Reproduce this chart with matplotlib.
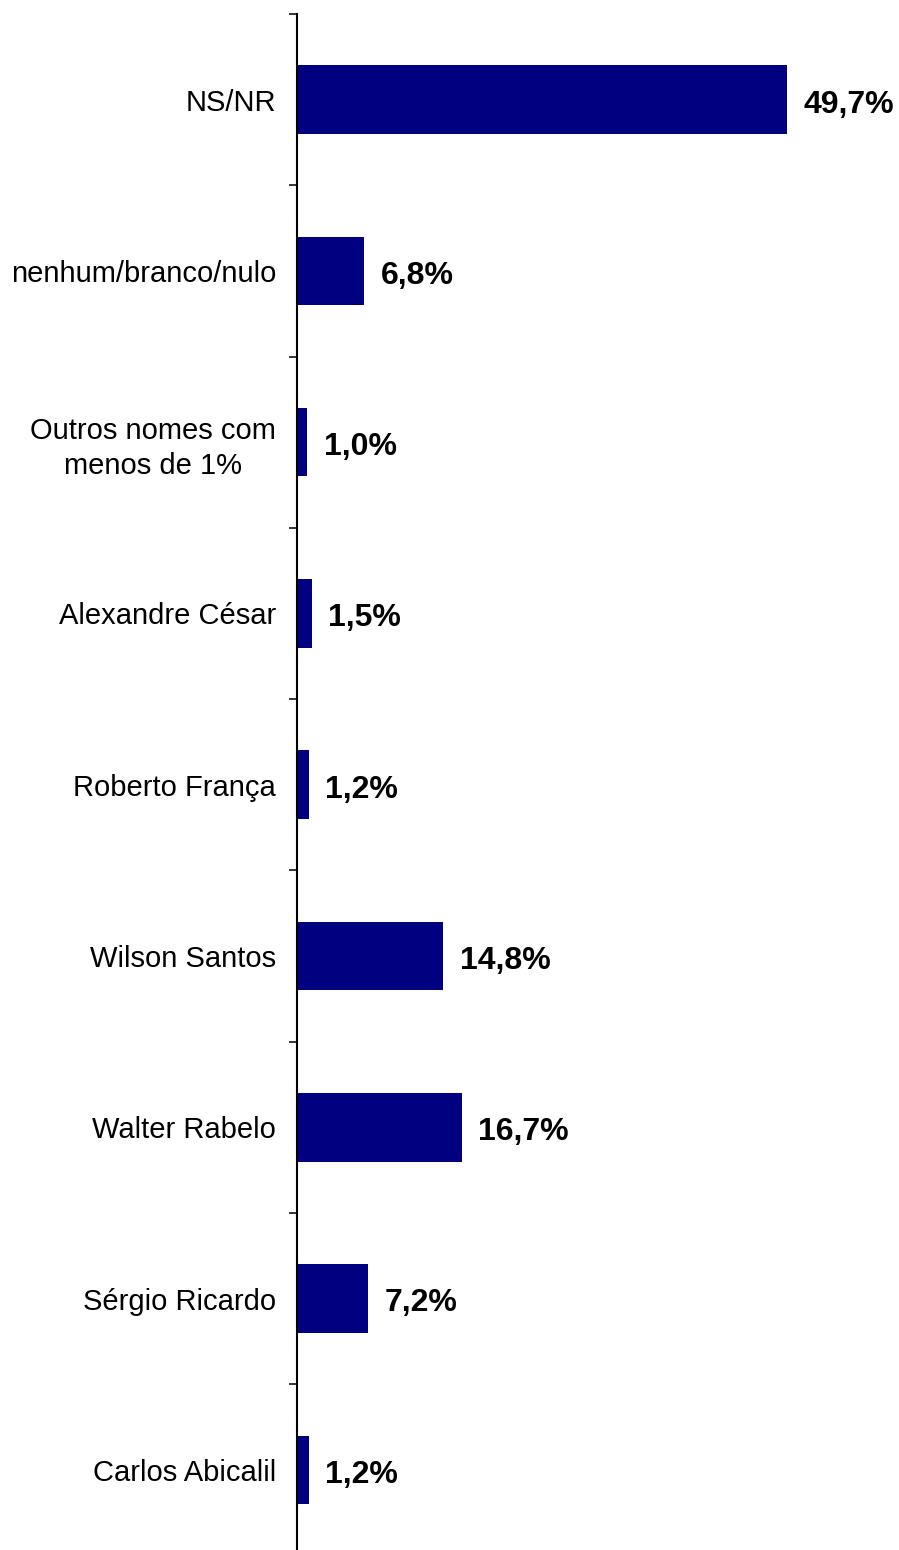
"""
Horizontal bar chart - voting intention (percent).
"""
import matplotlib
matplotlib.use("Agg")
import matplotlib.pyplot as plt
import numpy as np

plt.rcParams["font.family"] = ["Liberation Sans", "DejaVu Sans"]

# -- data (top to bottom) ------------------------------------------------------
categories = [
    "NS/NR",
    "nenhum/branco/nulo",
    "Outros nomes com\nmenos de 1%",
    "Alexandre César",
    "Roberto França",
    "Wilson Santos",
    "Walter Rabelo",
    "Sérgio Ricardo",
    "Carlos Abicalil",
]
values = [49.7, 6.8, 1.0, 1.5, 1.2, 14.8, 16.7, 7.2, 1.2]
value_labels = ["49,7%", "6,8%", "1,0%", "1,5%", "1,2%",
                "14,8%", "16,7%", "7,2%", "1,2%"]

# -- plot ----------------------------------------------------------------------
fig = plt.figure(figsize=(8.99, 15.5), dpi=100)
ax = fig.add_axes([297 / 899, 1 - 1555.5 / 1550, 1 - 297 / 899, 1541.5 / 1550])

y = np.arange(len(categories))
ax.barh(y, values, height=0.40, color="#000080", edgecolor="none", zorder=2)

for yi, v, lab in zip(y, values, value_labels):
    ax.annotate(lab, xy=(v, yi), xytext=(12, -3.5), textcoords="offset points",
                ha="left", va="center", fontsize=23, fontweight="bold",
                color="black")

ax.set_xlim(0, 602 / 9.859)
ax.set_ylim(len(categories) - 0.5, -0.5)

# ticks between categories, labels centred on bars
ax.set_yticks(np.arange(len(categories) + 1) - 0.5)
ax.set_yticklabels([])
ax.tick_params(axis="y", which="major", direction="out", length=6,
               width=1.1, color="black")
ax.set_yticks(y, minor=True)
ax.set_yticklabels(categories, minor=True, fontsize=21, ha="right",
                   multialignment="center", linespacing=1.3)
ax.tick_params(axis="y", which="minor", length=0, pad=15)

ax.set_xticks([])
for side in ("top", "right", "bottom"):
    ax.spines[side].set_visible(False)
ax.spines["left"].set_linewidth(1.5)
ax.spines["left"].set_color("black")

fig.savefig("out.png", dpi=100, facecolor="white")
plt.close(fig)
